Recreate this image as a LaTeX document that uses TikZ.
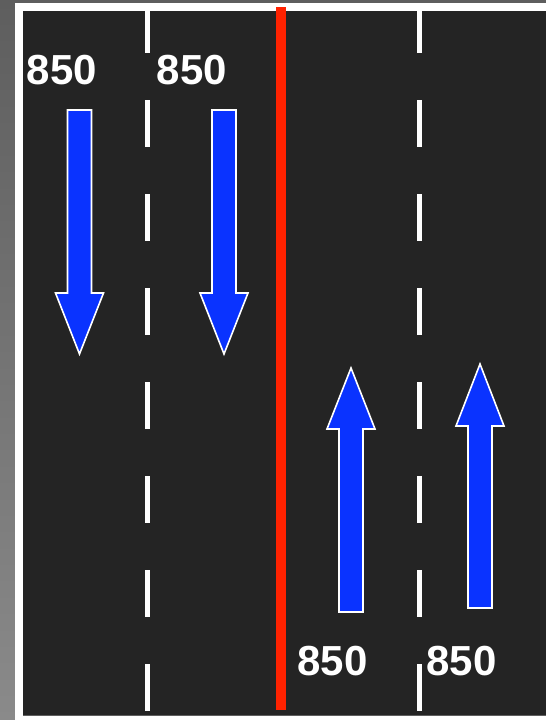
\documentclass[tikz,border=0pt]{standalone}
\usepackage{fontspec}
\setmainfont{Liberation Sans}
\usepackage{xcolor}
\usepackage{tikz}
\definecolor{roadgray}{HTML}{242424}
\definecolor{lanewhite}{HTML}{FFFFFF}
\definecolor{mediumred}{HTML}{FF2200}
\definecolor{flowblue}{HTML}{0A33FF}
\definecolor{framegray}{HTML}{5E5E5E}
\definecolor{framelight}{HTML}{8A8A8A}

\tikzset{
  flowarrow/.style={fill=flowblue,draw=lanewhite,line width=1.6pt,line join=miter},
  lanedash/.style={lanewhite,line width=5pt,dash pattern=on 47pt off 47pt,dash phase=5pt},
  flowlabel/.style={text=lanewhite,font=\fontsize{42}{42}\selectfont\bfseries,inner sep=0pt}
}

\begin{document}
\begin{tikzpicture}[x=1pt,y=-1pt]
  \useasboundingbox (0,0) rectangle (546,720);
  % frame
  \fill[framegray] (0,0) rectangle (546,3);
  \shade[top color=framegray,bottom color=framelight] (0,0) rectangle (15,720);
  \fill[lanewhite] (15,3) rectangle (546,720);
  \fill[roadgray] (23,11) rectangle (546,715);
  \draw[framegray,line width=0.8pt] (23,715.4) -- (546,715.4);
  % lane lines
  \foreach \lx in {147.5,419}
    \draw[lanedash] (\lx,11) -- (\lx,711);
  \fill[mediumred] (276,7) rectangle (286,710);
  % flow arrows: centre / tail / head base / tip
  \foreach \cx/\tl/\bs/\tp in {79.5/110/293/354, 224/110/293/354, 351/612/429/368, 480/608/426/364}
    \draw[flowarrow] (\cx-12,\tl) -- (\cx+12,\tl) -- (\cx+12,\bs) -- (\cx+24,\bs)
      -- (\cx,\tp) -- (\cx-24,\bs) -- (\cx-12,\bs) -- cycle;
  % volumes
  \node[flowlabel] (vol1) at (62,70) {850};
  \node[flowlabel] (vol2) at (192,70) {850};
  \node[flowlabel] (vol3) at (332.5,661) {850};
  \node[flowlabel] (vol4) at (461.5,661) {850};
\end{tikzpicture}
\end{document}
